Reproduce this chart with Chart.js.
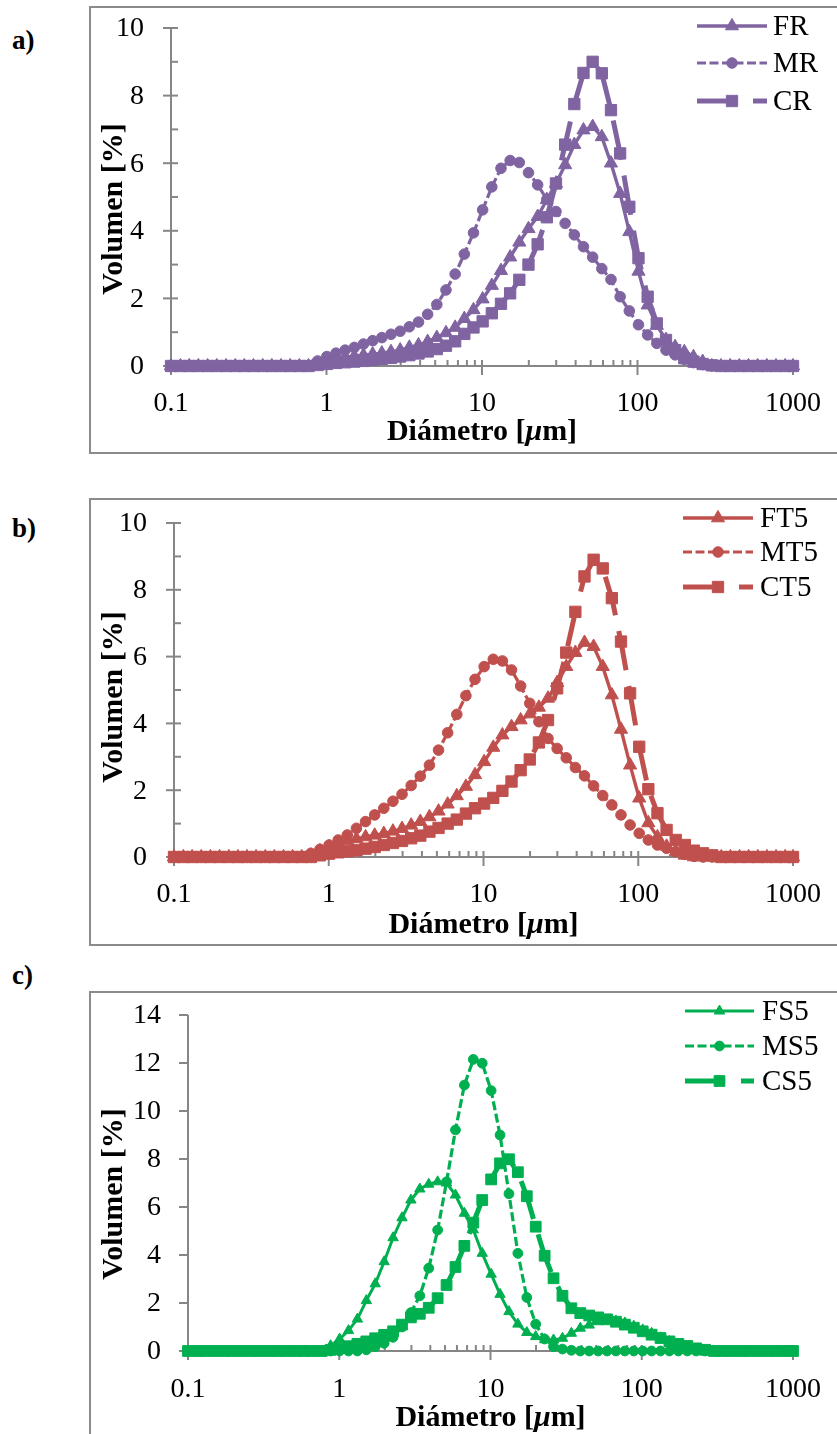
<!DOCTYPE html>
<html lang="es">
<head>
<meta charset="utf-8">
<title>Distribución de tamaño de partícula</title>
<script src="https://cdn.jsdelivr.net/npm/chart.js@4.4.1/dist/chart.umd.min.js"></script>
<style>
  html, body { margin: 0; padding: 0; background: #fff; }
  #page { position: relative; width: 837px; height: 1434px; overflow: hidden; background: #fff; }
  .frame { position: absolute; border: 2px solid #8b8b8b; box-sizing: border-box; }
  .panel { position: absolute; left: 12px; font-family: 'Liberation Serif', 'Times New Roman', serif;
           font-weight: bold; font-size: 27px; line-height: 30px; color: #000; }
  canvas { position: absolute; left: 0; }
</style>
</head>
<body>
<div id="page">
  <div class="frame" style="left:89px; top:6px; width:800px; height:448px;"></div>
  <div class="frame" style="left:89px; top:498px; width:800px; height:448px;"></div>
  <div class="frame" style="left:89px; top:991px; width:800px; height:500px;"></div>
  <div class="panel" style="top:25px;">a)</div>
  <div class="panel" style="top:513px;">b)</div>
  <div class="panel" style="top:960px;">c)</div>
  <canvas id="chartA" width="837" height="470" style="top:0px;"></canvas>
  <canvas id="chartB" width="837" height="490" style="top:470px;"></canvas>
  <canvas id="chartC" width="837" height="474" style="top:960px;"></canvas>
</div>
<script>
// Diámetro de cada clase de tamaño [µm]
const diametros = [0.1, 0.115, 0.131, 0.15, 0.172, 0.197, 0.226, 0.259, 0.296, 0.339, 0.389, 0.445, 0.51, 0.584,
  0.669, 0.766, 0.877, 1.005, 1.151, 1.318, 1.51, 1.729, 1.981, 2.269, 2.599, 2.976, 3.409, 3.905, 4.472, 5.122,
  5.867, 6.72, 7.697, 8.816, 10.097, 11.565, 13.246, 15.172, 17.377, 19.904, 22.797, 26.111, 29.907, 34.255,
  39.234, 44.938, 51.471, 58.953, 67.523, 77.34, 88.583, 101.46, 116.21, 133.103, 152.453, 174.616, 200,
  229.075, 262.376, 300.518, 344.206, 394.244, 451.556, 517.2, 592.387, 678.504, 777.141, 890.116, 1000];

// Volumen [%] por clase — serie R
const FR = [0,0,0,0,0,0,0,0,0,0,0,0,0,0,0,0,
  0.06,0.15,0.21,0.26,0.29,0.32,0.35,0.38,0.42,0.47,0.55,0.62,0.72,0.84,0.98,1.14,1.40,1.66,1.98,2.38,2.82,
  3.22,3.66,4.06,4.42,4.92,5.40,5.95,6.55,6.98,7.08,6.78,6.00,5.10,3.97,2.80,1.80,1.20,0.78,0.57,0.42,0.27,0.13,
  0,0,0,0,0,0,0,0,0,0];
const MR = [0,0,0,0,0,0,0,0,0,0,0,0,0,0,0,0,
  0.15,0.28,0.38,0.47,0.55,0.65,0.75,0.84,0.94,1.03,1.16,1.30,1.53,1.82,2.25,2.72,3.31,3.94,4.62,5.30,5.85,
  6.08,6.02,5.72,5.36,4.93,4.57,4.22,3.88,3.53,3.22,2.88,2.56,2.05,1.63,1.22,0.92,0.67,0.47,0.33,0.20,0.10,0.04,
  0,0,0,0,0,0,0,0,0,0];
const CR = [0,0,0,0,0,0,0,0,0,0,0,0,0,0,0,0,
  0.03,0.06,0.09,0.11,0.13,0.15,0.18,0.21,0.24,0.28,0.32,0.37,0.43,0.50,0.60,0.73,0.95,1.14,1.32,1.56,1.84,
  2.15,2.55,3.00,3.60,4.40,5.40,6.55,7.75,8.67,9.00,8.66,7.57,6.29,4.71,3.19,2.05,1.26,0.77,0.47,0.23,0.13,0.06,
  0.02,0,0,0,0,0,0,0,0,0];

// Serie T5
const FT5 = [0,0,0,0,0,0,0,0,0,0,0,0,0,0,0,
  0.05,0.18,0.30,0.40,0.48,0.54,0.60,0.65,0.70,0.77,0.85,0.95,1.06,1.20,1.37,1.58,1.83,2.11,2.46,2.85,3.28,
  3.65,3.90,4.10,4.28,4.48,4.75,5.22,5.70,6.12,6.42,6.30,5.70,4.85,3.82,2.75,1.76,1.02,0.60,0.32,0.15,0.05,
  0,0,0,0,0,0,0,0,0,0,0,0];
const MT5 = [0,0,0,0,0,0,0,0,0,0,0,0,0,0,0,
  0.11,0.23,0.36,0.51,0.66,0.86,1.06,1.26,1.46,1.67,1.88,2.14,2.42,2.75,3.20,3.72,4.27,4.83,5.32,5.70,5.92,
  5.87,5.60,5.12,4.60,4.05,3.55,3.25,2.97,2.68,2.43,2.13,1.84,1.56,1.26,0.96,0.71,0.51,0.36,0.26,0.16,0.08,0.02,
  0,0,0,0,0,0,0,0,0,0,0];
const CT5 = [0,0,0,0,0,0,0,0,0,0,0,0,0,0,0,0,
  0.05,0.10,0.14,0.17,0.20,0.25,0.30,0.36,0.42,0.48,0.56,0.64,0.76,0.87,1.00,1.12,1.30,1.46,1.60,1.77,1.98,
  2.26,2.60,2.92,3.43,4.10,5.05,6.12,7.34,8.40,8.90,8.64,7.75,6.45,4.90,3.30,2.03,1.31,0.81,0.51,0.36,0.19,0.11,
  0.05,0,0,0,0,0,0,0,0,0];

// Serie S5
const FS5 = [0,0,0,0,0,0,0,0,0,0,0,0,0,0,0,0,
  0.22,0.50,0.85,1.33,2.10,2.80,3.72,4.72,5.55,6.29,6.75,6.95,7.05,7.00,6.50,5.74,5.05,4.07,3.20,2.36,1.64,
  1.12,0.77,0.60,0.47,0.46,0.53,0.74,0.95,1.08,1.22,1.29,1.25,1.17,1.03,0.88,0.74,0.55,0.40,0.26,0.12,0.04,
  0,0,0,0,0,0,0,0,0,0,0];
const MS5 = [0,0,0,0,0,0,0,0,0,0,0,0,0,0,0,0,0,0,0,0,
  0.05,0.18,0.32,0.57,1.00,1.60,2.30,3.45,5.04,7.05,9.21,11.08,12.15,11.99,10.85,9.00,6.55,4.07,2.23,1.12,
  0.50,0.18,0.08,0.03,
  0,0,0,0,0,0,0,0,0,0,0,0,0,0,0,0,0,0,0,0,0,0,0,0,0];
const CS5 = [0,0,0,0,0,0,0,0,0,0,0,0,0,0,0,0,
  0.05,0.12,0.20,0.30,0.40,0.53,0.67,0.82,1.10,1.40,1.55,1.80,2.20,2.75,3.50,4.38,5.35,6.29,7.15,7.82,7.99,
  7.45,6.45,5.18,3.97,3.03,2.30,1.78,1.58,1.48,1.40,1.32,1.22,1.10,0.97,0.82,0.68,0.54,0.40,0.30,0.21,0.11,0.05,
  0,0,0,0,0,0,0,0,0,0];

// Marcas de los ejes
const ticksX = [0.1, 1, 10, 100, 1000];
const etiquetasX = ['0.1', '1', '10', '100', '1000'];
const ticksY10 = [0, 2, 4, 6, 8, 10];
const menoresY10 = [1, 3, 5, 7, 9];
const ticksY14 = [0, 2, 4, 6, 8, 10, 12, 14];

const MORADO = '#8064A2', ROJO = '#C0504D', VERDE = '#00B050';
const FUENTE = "'Liberation Serif', 'Times New Roman', serif";
const GRIS = '#868686';

function puntos(valores) {
  return diametros.map((d, i) => ({ x: d, y: valores[i] }));
}

function dibujarMarcador(ctx, estilo, r, x, y) {
  ctx.beginPath();
  if (estilo === 'triangle') {
    for (let k = 0; k < 3; k++) {
      const a = k * 2 * Math.PI / 3;
      const px = x + Math.sin(a) * r, py = y - Math.cos(a) * r;
      if (k === 0) ctx.moveTo(px, py); else ctx.lineTo(px, py);
    }
    ctx.closePath();
  } else if (estilo === 'rect') {
    const s = r / Math.SQRT2;
    ctx.rect(x - s, y - s, 2 * s, 2 * s);
  } else {
    ctx.arc(x, y, r, 0, Math.PI * 2);
  }
  ctx.fill();
  ctx.stroke();
}

// Ejes, marcas, rótulos y leyenda dibujados sobre las escalas de Chart.js
const ejesPlugin = {
  id: 'ejes',
  beforeDatasetsDraw(chart, args, o) {
    const { ctx, chartArea: { left, right, top, bottom }, scales: { x, y } } = chart;
    const linea = (x1, y1, x2, y2) => { ctx.beginPath(); ctx.moveTo(x1, y1); ctx.lineTo(x2, y2); ctx.stroke(); };
    ctx.save();
    ctx.strokeStyle = GRIS;
    ctx.lineWidth = 2;
    ctx.setLineDash([]);
    linea(left, top, left, bottom);
    o.ticksY.forEach(v => { const py = y.getPixelForValue(v); linea(left - o.yFuera, py, left + o.yDentro, py); });
    (o.menoresY || []).forEach(v => { const py = y.getPixelForValue(v); linea(left, py, left + 7, py); });
    const y0 = y.getPixelForValue(0);
    linea(left, y0, right, y0);
    ticksX.forEach(v => { const px = x.getPixelForValue(v); linea(px, y0 - 6, px, y0 + 9); });
    ticksX.slice(0, -1).forEach(dec => {
      for (let k = 2; k <= 9; k++) { const px = x.getPixelForValue(dec * k); linea(px, y0 - 6, px, y0); }
    });

    ctx.fillStyle = '#000';
    ctx.font = '28px ' + FUENTE;
    ctx.textAlign = 'right';
    ctx.textBaseline = 'middle';
    o.ticksY.forEach(v => ctx.fillText(String(v), left - 27, y.getPixelForValue(v) + 1));
    ctx.textAlign = 'center';
    ticksX.forEach((v, i) => ctx.fillText(etiquetasX[i], x.getPixelForValue(v), y0 + o.xEtiqueta));

    // Título del eje Y
    ctx.save();
    ctx.translate(o.tituloYx, o.tituloYy);
    ctx.rotate(-Math.PI / 2);
    ctx.font = 'bold 30px ' + FUENTE;
    ctx.textAlign = 'center';
    ctx.fillText('Volumen [%]', 0, 0);
    ctx.restore();

    // Título del eje X con µ en cursiva
    const partes = [['Diámetro [', 'bold 30px '], ['\u03BC', 'italic bold 30px '], ['m]', 'bold 30px ']];
    let ancho = 0;
    partes.forEach(p => { ctx.font = p[1] + FUENTE; ancho += ctx.measureText(p[0]).width; });
    let cx = (left + right) / 2 - ancho / 2;
    ctx.textAlign = 'left';
    partes.forEach(p => { ctx.font = p[1] + FUENTE; ctx.fillText(p[0], cx, y0 + o.xTitulo); cx += ctx.measureText(p[0]).width; });
    ctx.restore();
  },
  afterDatasetsDraw(chart, args, o) {
    const ctx = chart.ctx;
    ctx.save();
    chart.data.datasets.forEach((ds, i) => {
      const fy = o.leyenda.filas[i];
      ctx.strokeStyle = ds.borderColor;
      ctx.fillStyle = ds.backgroundColor;
      ctx.lineWidth = ds.borderWidth;
      ctx.setLineDash(ds.borderDash || []);
      ctx.beginPath();
      ctx.moveTo(o.leyenda.x0, fy);
      ctx.lineTo(o.leyenda.x1, fy);
      ctx.stroke();
      ctx.setLineDash([]);
      ctx.lineWidth = 1;
      dibujarMarcador(ctx, ds.pointStyle, ds.pointRadius, (o.leyenda.x0 + o.leyenda.x1) / 2, fy);
      ctx.fillStyle = '#000';
      ctx.font = '29px ' + FUENTE;
      ctx.textAlign = 'left';
      ctx.textBaseline = 'middle';
      ctx.fillText(ds.label, o.leyenda.xt, fy + 1);
    });
    ctx.restore();
  }
};

function serie(label, valores, color, estilo, tam) {
  const base = {
    label, data: puntos(valores), borderColor: color, backgroundColor: color,
    pointBackgroundColor: color, pointBorderColor: color, pointBorderWidth: 1,
    tension: 0, clip: false, fill: false
  };
  if (estilo === 'F') Object.assign(base, { pointStyle: 'triangle', pointRadius: tam.tri, borderWidth: tam.wF, borderDash: [] });
  if (estilo === 'M') Object.assign(base, { pointStyle: 'circle', pointRadius: tam.cir, borderWidth: tam.wM, borderDash: [9, 3.5] });
  if (estilo === 'C') Object.assign(base, { pointStyle: 'rect', pointRadius: tam.cua, borderWidth: tam.wC, borderDash: [40, 16] });
  base.pointHoverRadius = base.pointRadius;
  return base;
}

function grafico(id, series, ymax, padding, ejes) {
  return new Chart(document.getElementById(id), {
    type: 'line',
    data: { datasets: series },
    options: {
      responsive: false,
      animation: false,
      events: [],
      layout: { padding },
      scales: {
        x: { type: 'logarithmic', min: 0.1, max: 1000, display: false },
        y: { type: 'linear', min: 0, max: ymax, display: false }
      },
      plugins: { legend: { display: false }, tooltip: { enabled: false }, ejes }
    },
    plugins: [ejesPlugin]
  });
}

const tamAB = { tri: 7.6, cir: 5.3, cua: 8.0, wF: 3.4, wM: 3.2, wC: 5 };
const tamC = { tri: 6.0, cir: 4.9, cua: 7.6, wF: 3.0, wM: 3.2, wC: 5 };

grafico('chartA', [
  serie('FR', FR, MORADO, 'F', tamAB),
  serie('MR', MR, MORADO, 'M', tamAB),
  serie('CR', CR, MORADO, 'C', tamAB)
], 10, { left: 171, right: 44, top: 28, bottom: 104 }, {
  ticksY: ticksY10, menoresY: menoresY10, yFuera: 8, yDentro: 7,
  xEtiqueta: 38, xTitulo: 66, tituloYx: 114, tituloYy: 209,
  leyenda: { x0: 697, x1: 767, xt: 773, filas: [26, 63, 101] }
});

grafico('chartB', [
  serie('FT5', FT5, ROJO, 'F', tamAB),
  serie('MT5', MT5, ROJO, 'M', tamAB),
  serie('CT5', CT5, ROJO, 'C', tamAB)
], 10, { left: 174, right: 44, top: 53, bottom: 103 }, {
  ticksY: ticksY10, menoresY: menoresY10, yFuera: 8, yDentro: 7,
  xEtiqueta: 38, xTitulo: 68, tituloYx: 114, tituloYy: 697 - 470,
  leyenda: { x0: 683, x1: 753, xt: 760, filas: [48, 82, 117] }
});

grafico('chartC', [
  serie('FS5', FS5, VERDE, 'F', tamC),
  serie('MS5', MS5, VERDE, 'M', tamC),
  serie('CS5', CS5, VERDE, 'C', tamC)
], 14, { left: 188, right: 44, top: 55, bottom: 83 }, {
  ticksY: ticksY14, menoresY: [], yFuera: 9, yDentro: 0,
  xEtiqueta: 39, xTitulo: 67, tituloYx: 114, tituloYy: 1194 - 960,
  leyenda: { x0: 685, x1: 754, xt: 762, filas: [51, 86, 121] }
});
</script>
</body>
</html>
